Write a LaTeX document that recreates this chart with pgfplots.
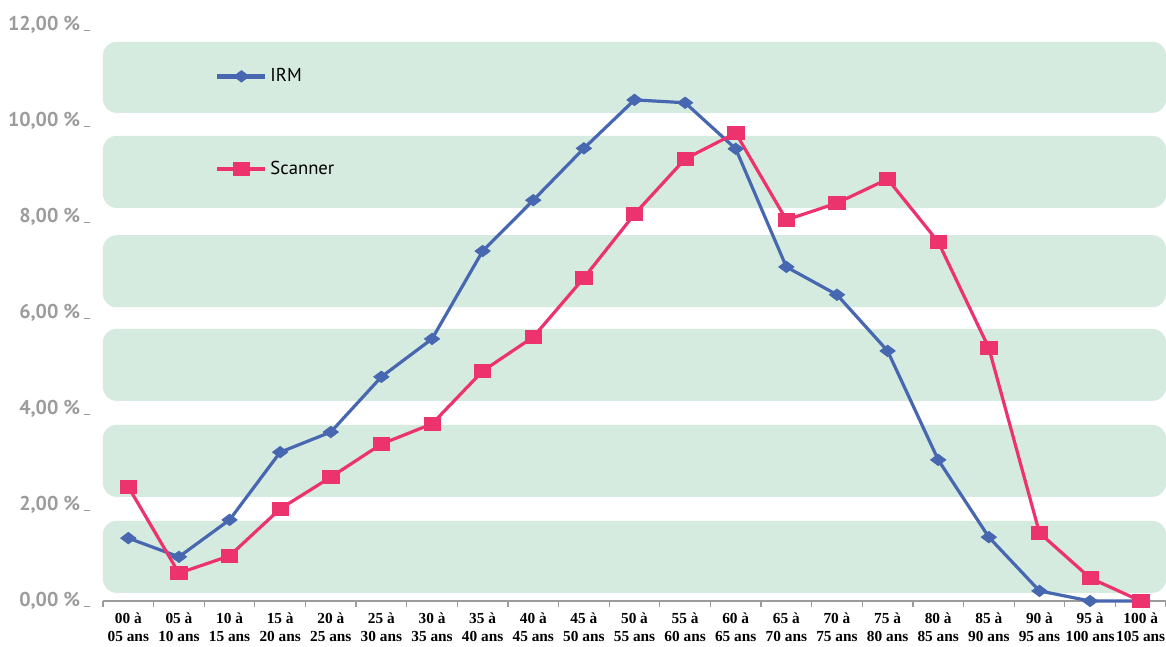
\documentclass[border=0pt]{standalone}
\usepackage{pgfplots}
\pgfplotsset{compat=1.18}
\usepackage{fontspec}
\setmainfont{Liberation Serif}
\newfontfamily\ptsans{PT Sans}
\definecolor{irm}{HTML}{4767B0}
\definecolor{scan}{HTML}{EC336E}
\definecolor{band}{HTML}{D6EBDF}
\definecolor{axgray}{HTML}{9C9C9C}

\begin{document}
\begin{tikzpicture}
\begin{axis}[
    set layers,
    scale only axis,
    width=797.25pt, height=432pt,
    xmin=-0.5, xmax=20.5, ymin=0, ymax=12,
    clip=false,
    axis x line*=bottom,
    axis y line*=left,
    y axis line style={draw=none},
    x axis line style={axgray, line width=2.2pt, -},
    tick align=outside,
    major tick length=0pt,
    minor tick length=4.5pt,
    minor tick style={axgray, line width=0.9pt},
    xtick={0,...,20},
    minor xtick={-0.5,0.5,...,20.5},
    xticklabels={{00 à\\05 ans},{05 à\\10 ans},{10 à\\15 ans},{15 à\\20 ans},
        {20 à\\25 ans},{25 à\\30 ans},{30 à\\35 ans},{35 à\\40 ans},
        {40 à\\45 ans},{45 à\\50 ans},{50 à\\55 ans},{55 à\\60 ans},
        {60 à\\65 ans},{65 à\\70 ans},{70 à\\75 ans},{75 à\\80 ans},
        {80 à\\85 ans},{85 à\\90 ans},{90 à\\95 ans},{95 à\\100 ans},
        {100 à\\105 ans}},
    xticklabel style={font=\bfseries\fontsize{11.5}{13.5}\selectfont, align=center, yshift=-5pt},
    ytick={0,2,...,12},
    yticklabels={{0,00 \%\,\rule{5pt}{0.7pt}},{2,00 \%\,\rule{5pt}{0.7pt}},
        {4,00 \%\,\rule{5pt}{0.7pt}},{6,00 \%\,\rule{5pt}{0.7pt}},
        {8,00 \%\,\rule{5pt}{0.7pt}},{10,00 \%\,\rule{5pt}{0.7pt}},
        {12,00 \%\,\rule{5pt}{0.7pt}}},
    yticklabel style={font=\ptsans\bfseries\fontsize{15}{15}\selectfont, text=axgray, xshift=-6pt},
    legend style={at={(axis cs:1.71,11.15)}, anchor=north west, draw=none, fill=none,
        inner sep=0pt, row sep=54pt, font=\ptsans\fontsize{14}{14}\selectfont},
    legend cell align=left,
    legend image code/.code={%
        \draw[mark repeat=2, mark phase=2, line width=3.5pt]
        plot coordinates {(0pt,0pt) (18pt,0pt) (36pt,0pt)};},
]
\begin{pgfonlayer}{axis background}
\fill[band, rounded corners=10pt] (axis cs:-0.5,0.17) rectangle (axis cs:20.5,1.67);
\fill[band, rounded corners=10pt] (axis cs:-0.5,2.17) rectangle (axis cs:20.5,3.67);
\fill[band, rounded corners=10pt] (axis cs:-0.5,4.17) rectangle (axis cs:20.5,5.67);
\fill[band, rounded corners=10pt] (axis cs:-0.5,6.12) rectangle (axis cs:20.5,7.62);
\fill[band, rounded corners=10pt] (axis cs:-0.5,8.19) rectangle (axis cs:20.5,9.69);
\fill[band, rounded corners=10pt] (axis cs:-0.5,10.17) rectangle (axis cs:20.5,11.65);
\end{pgfonlayer}

\addplot[irm, line width=2.4pt, mark=diamond*, mark size=5.8pt,
    mark options={rotate=90, line width=0.5pt}] coordinates {
    (0,1.31) (1,0.92) (2,1.69) (3,3.10) (4,3.52) (5,4.67) (6,5.46)
    (7,7.29) (8,8.35) (9,9.43) (10,10.44) (11,10.38) (12,9.42) (13,6.96)
    (14,6.38) (15,5.21) (16,2.94) (17,1.33) (18,0.21) (19,0.0) (20,0.0)
};
\addlegendentry{IRM}
\addplot[scan, line width=2.4pt, mark=square*, mark size=4.9pt,
    mark options={xscale=1.25, line width=0.5pt}] coordinates {
    (0,2.38) (1,0.58) (2,0.94) (3,1.92) (4,2.58) (5,3.27) (6,3.69)
    (7,4.79) (8,5.50) (9,6.73) (10,8.06) (11,9.21) (12,9.75) (13,7.94)
    (14,8.29) (15,8.79) (16,7.48) (17,5.27) (18,1.42) (19,0.48) (20,0.0)
};
\addlegendentry{Scanner}
\end{axis}
\pgfresetboundingbox
\path[use as bounding box] (-77.25pt,-33.75pt) rectangle (797.25pt,450.75pt);
\end{tikzpicture}
\end{document}
